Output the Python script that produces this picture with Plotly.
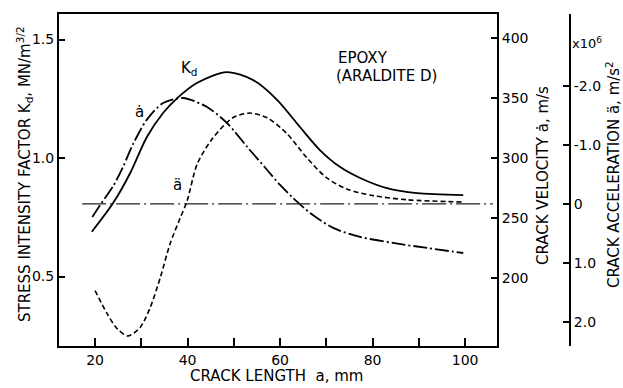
import plotly.graph_objects as go

# ---- data ----
kd_a = [19.3, 23.9, 27.6, 31.2, 34.7, 37.7, 42.1, 48.5, 54.2, 59.4, 64.3, 68.6, 73.0, 77.3, 83.1, 89.6, 99.6]
kd_val = [0.689, 0.810, 0.937, 1.089, 1.190, 1.252, 1.318, 1.363, 1.329, 1.245, 1.131, 1.034, 0.962, 0.916, 0.873, 0.852, 0.844]

vel_a = [19.4, 21.1, 23.9, 26.1, 28.2, 31.2, 34.7, 39.0, 44.2, 48.5, 52.9, 57.2, 60.0, 62.8, 66.5, 71.5, 77.3, 84.4, 91.8, 99.6]
vel_val = [250.8, 260.8, 276.5, 293.0, 311.5, 332.0, 345.8, 350.0, 342.5, 329.2, 309.2, 290.0, 277.5, 266.7, 254.2, 241.7, 234.2, 229.2, 225.0, 220.8]

acc_a = [20.0, 22.6, 24.8, 27.1, 29.7, 31.9, 34.1, 36.2, 38.4, 39.9, 42.1, 45.5, 49.8, 53.5, 57.2, 61.5, 65.8, 70.1, 74.5, 80.1, 87.5, 99.6]
acc_val = [1.47, 1.86, 2.12, 2.24, 2.10, 1.76, 1.25, 0.68, 0.24, -0.05, -0.68, -1.12, -1.46, -1.54, -1.46, -1.19, -0.78, -0.44, -0.25, -0.14, -0.07, -0.03]

zero_a = [17.2, 106.0]
zero_acc = [0.0, 0.0]

x_ticks = [20, 30, 40, 50, 60, 70, 80, 90, 100]
x_labels = ["20", "", "40", "", "60", "", "80", "", "100"]
k_ticks = [0.5, 1.0, 1.5]
k_labels = ["0.5", "1.0", "1.5"]
v_ticks = [200, 250, 300, 350, 400]
v_labels = ["200", "250", "300", "350", "400"]
acc_ticks = [-2, -1, 0, 1, 2]
acc_labels = ["-2.0", "-1.0", "0", "1.0", "2.0"]

FONT = "DejaVu Sans"
W, H = 623, 388
ML, MR, MT, MB = 59, 10, 14, 42
PW = W - ML - MR
PH = H - MT - MB


def px(x):
    return (x - ML) / PW


def py(y):
    return (H - MB - y) / PH


fig = go.Figure()
fig.add_trace(go.Scatter(x=zero_a, y=zero_acc, yaxis="y3", mode="lines",
                         line=dict(color="#222", width=1.1, dash="24px,4px,2px,4px"), showlegend=False))
fig.add_trace(go.Scatter(x=kd_a, y=kd_val, mode="lines", line=dict(color="black", width=1.8, shape="spline", smoothing=0.8),
                         showlegend=False))
fig.add_trace(go.Scatter(x=vel_a, y=vel_val, yaxis="y2", mode="lines",
                         line=dict(color="black", width=1.8, shape="spline", smoothing=0.8, dash="14px,3px,2px,3px"),
                         showlegend=False))
fig.add_trace(go.Scatter(x=acc_a, y=acc_val, yaxis="y3", mode="lines",
                         line=dict(color="black", width=1.6, shape="spline", smoothing=0.8, dash="5px,3px"),
                         showlegend=False))

tickfont = dict(family=FONT, size=14, color="black")
common = dict(ticklen=6, tickwidth=1.5, tickcolor="black", showline=True, linewidth=2, linecolor="black",
              showgrid=False, zeroline=False, tickfont=tickfont)
fig.update_layout(
    width=W, height=H,
    margin=dict(l=ML, r=MR, t=MT, b=MB),
    paper_bgcolor="white", plot_bgcolor="white",
    xaxis=dict(domain=[0, px(497)], range=[12.2, 106.9], tickvals=x_ticks, ticktext=x_labels,
               ticks="inside", mirror=True, **{**common, "ticklen": 8}),
    yaxis=dict(range=[0.207, 1.608], tickvals=k_ticks, ticktext=k_labels, ticks="inside", **common),
    yaxis2=dict(overlaying="y", side="right", anchor="x", range=[143.3, 420], tickvals=v_ticks, ticktext=v_labels,
                ticks="inside", **common),
    yaxis3=dict(overlaying="y", side="right", anchor="free", position=px(570), range=[2.41, -3.22],
                tickvals=acc_ticks, ticktext=acc_labels, ticks="inside", **common),
)

tfont = dict(family=FONT, size=15, color="black")
ann = [
    dict(text="STRESS INTENSITY FACTOR K<sub>d</sub>, MN/m<sup>3/2</sup>", x=px(24), y=py(174), textangle=-90),
    dict(text="CRACK LENGTH  a, mm", x=px(276), y=py(376)),
    dict(text="CRACK VELOCITY ȧ, m/s", x=px(543), y=py(176), textangle=-90),
    dict(text="CRACK ACCELERATION ä, m/s<sup>2</sup>", x=px(613), y=py(175), textangle=-90),
]
for a in ann:
    fig.add_annotation(xref="paper", yref="paper", showarrow=False, font=tfont,
                       xanchor="center", yanchor="middle", **a)

fig.add_annotation(xref="paper", yref="paper", x=px(570), y=py(43), text="x10<sup>6</sup>", xanchor="left",
                   yanchor="middle", showarrow=False, font=dict(family=FONT, size=13, color="black"))
fig.add_annotation(xref="paper", yref="paper", x=px(336), y=py(58), text="EPOXY", xanchor="left",
                   yanchor="middle", showarrow=False, font=dict(family=FONT, size=15, color="black"))
fig.add_annotation(xref="paper", yref="paper", x=px(334), y=py(76), text="(ARALDITE D)", xanchor="left",
                   yanchor="middle", showarrow=False, font=dict(family=FONT, size=15, color="black"))
fig.add_annotation(xref="x", yref="y", x=40.5, y=1.38, text="K<sub>d</sub>", showarrow=False,
                   xanchor="center", yanchor="middle", font=dict(family=FONT, size=15, color="black"))
fig.add_annotation(xref="x", yref="y", x=29.7, y=1.194, text="ȧ", showarrow=False,
                   xanchor="center", yanchor="middle", font=dict(family=FONT, size=15, color="black"))
fig.add_annotation(xref="x", yref="y", x=37.9, y=0.886, text="ä", showarrow=False,
                   xanchor="center", yanchor="middle", font=dict(family=FONT, size=15, color="black"))

fig.write_html("out.html")
